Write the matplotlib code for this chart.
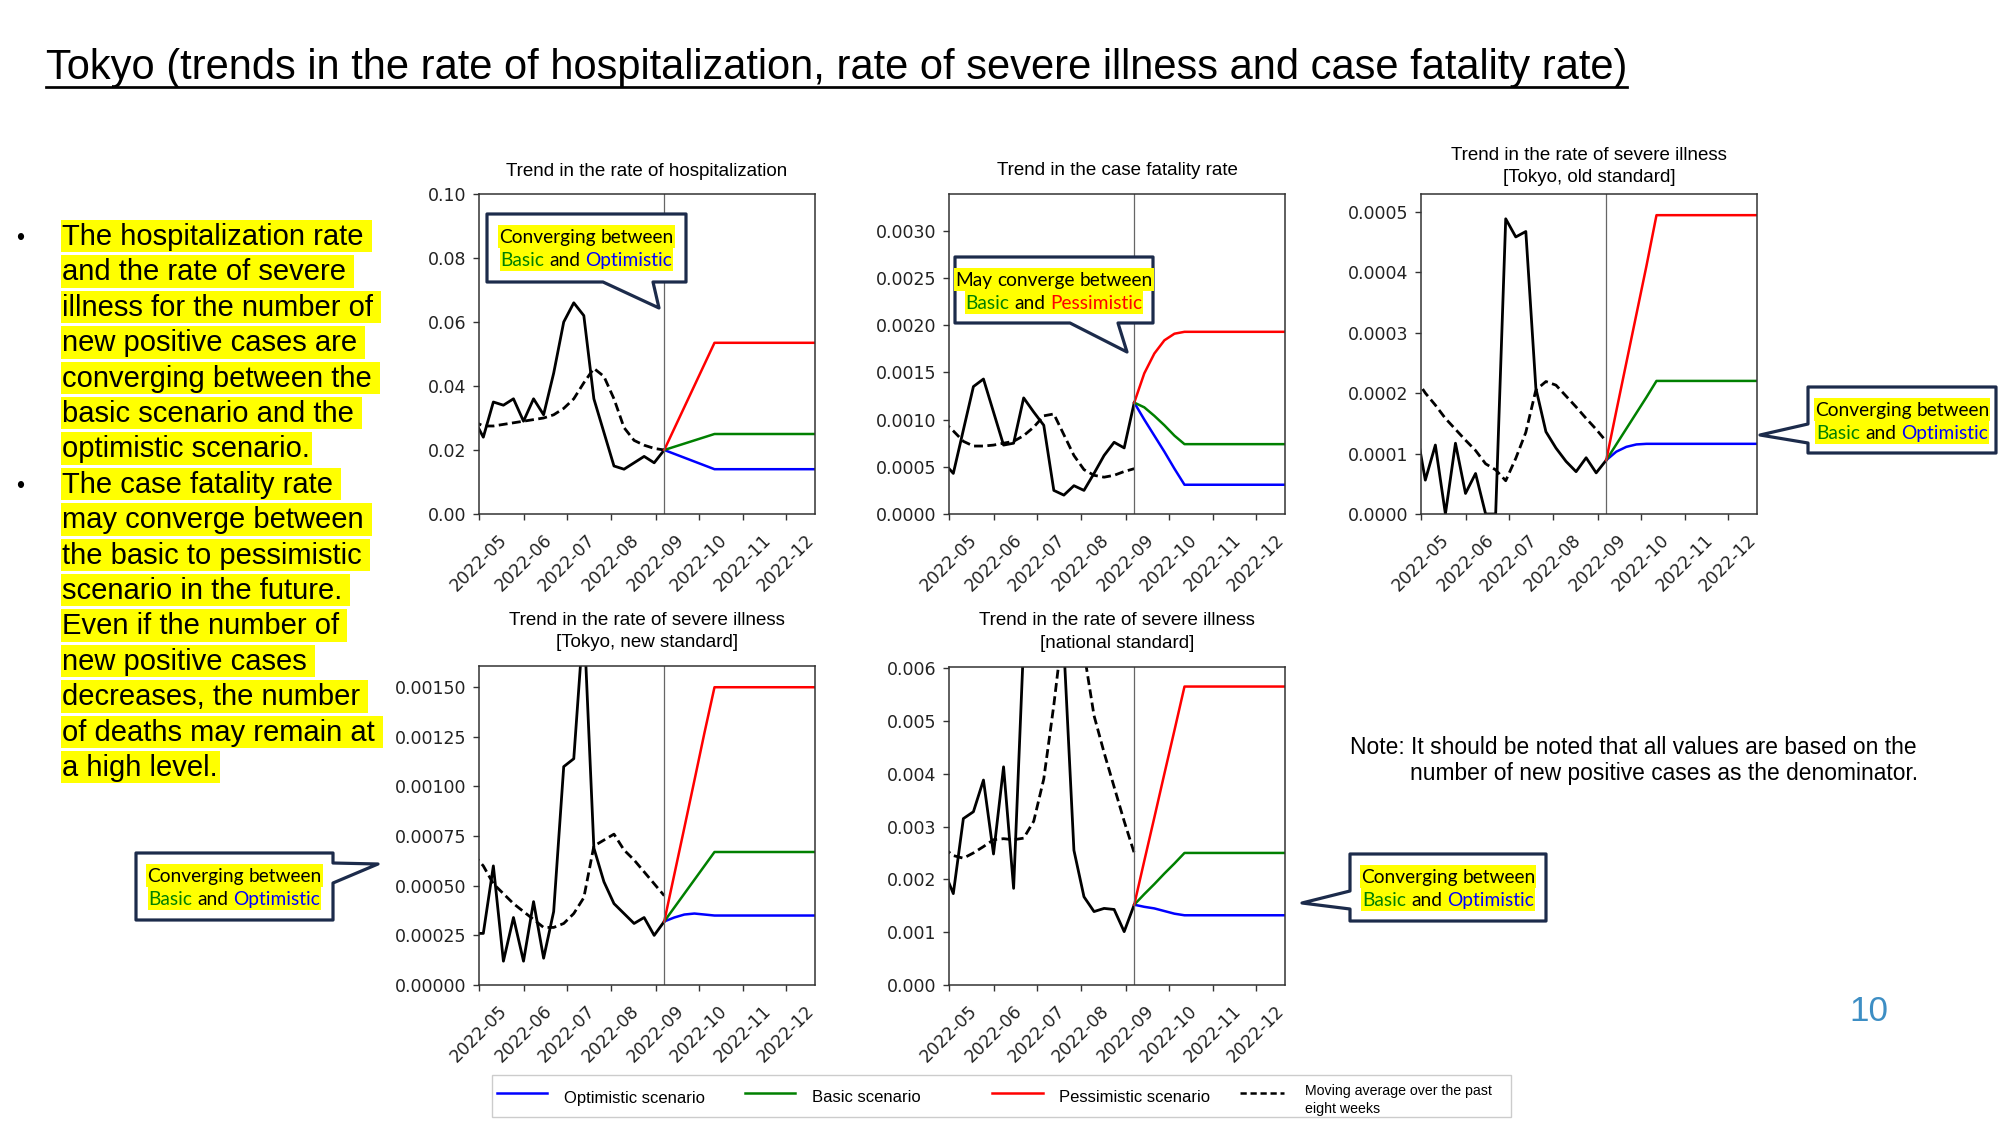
import matplotlib
matplotlib.use('Agg')
import matplotlib.pyplot as plt
import matplotlib.dates as mdates
from matplotlib.patches import Polygon, Rectangle
from matplotlib.lines import Line2D
from matplotlib.ticker import FormatStrFormatter, MultipleLocator
import pandas as pd

W, H = 2000, 1125

# DATA

## weekly observations and scenario projections
week_dates = pd.date_range('2022-04-27', '2022-09-07', freq='7D')
proj_dates = pd.to_datetime(['2022-09-07', '2022-09-14', '2022-09-21', '2022-09-28',
                             '2022-10-05', '2022-10-12', '2022-12-21'])
last_obs = pd.Timestamp('2022-09-07')

hosp_actual = [0.030, 0.024, 0.035, 0.034, 0.036, 0.029, 0.036, 0.031, 0.044, 0.060,
               0.066, 0.062, 0.036, 0.0255, 0.015, 0.014, 0.016, 0.018, 0.016, 0.020]
hosp_ma = [0.029, 0.0275, 0.0275, 0.028, 0.0285, 0.029, 0.0295, 0.030, 0.031, 0.033,
           0.036, 0.041, 0.0455, 0.043, 0.036, 0.027, 0.023, 0.0215, 0.0205, 0.020]
hosp_opt = [0.020, 0.0188, 0.0176, 0.0164, 0.0152, 0.014, 0.014]
hosp_basic = [0.020, 0.021, 0.022, 0.023, 0.024, 0.025, 0.025]
hosp_pess = [0.020, 0.0267, 0.0334, 0.0401, 0.0468, 0.0535, 0.0535]

fat_actual = [0.00055, 0.00043, 0.00089, 0.00135, 0.00143, 0.00108, 0.00073, 0.00075, 0.00123, 0.00108,
              0.00094, 0.00025, 0.0002, 0.0003, 0.00025, 0.00043, 0.00062, 0.00076, 0.0007, 0.00118]
fat_ma = [0.00098, 0.00088, 0.00077, 0.00072, 0.00072, 0.00073, 0.00075, 0.00077, 0.00083, 0.00092,
          0.00104, 0.00106, 0.00084, 0.00062, 0.00047, 0.00041, 0.00039, 0.00041, 0.00045, 0.00048]
fat_opt = [0.00118, 0.0010, 0.00083, 0.00066, 0.00048, 0.00031, 0.00031]
fat_basic = [0.00118, 0.00113, 0.00104, 0.00094, 0.00083, 0.00074, 0.00074]
fat_pess = [0.00118, 0.00149, 0.0017, 0.00184, 0.00191, 0.00193, 0.00193]

old_actual = [0.00015, 0.000056, 0.000114, 0.0, 0.000117, 0.000034, 0.000067, 0.0, 0.0, 0.000488,
              0.000458, 0.000467, 0.000208, 0.000136, 0.000109, 0.000087, 0.00007, 0.000093, 0.000068, 0.000089]
old_ma = [0.000225, 0.0002, 0.00018, 0.000158, 0.00014, 0.000122, 0.000105, 0.000083, 0.000073, 0.000055,
          0.000092, 0.000135, 0.000205, 0.000219, 0.000213, 0.000195, 0.000177, 0.000158, 0.00014, 0.00012]
old_opt = [0.000089, 0.000103, 0.000111, 0.000115, 0.000116, 0.000116, 0.000116]
old_basic = [0.000089, 0.000115, 0.000141, 0.000167, 0.000193, 0.00022, 0.00022]
old_pess = [0.000089, 0.00017, 0.00025, 0.00033, 0.00041, 0.000494, 0.000494]

new_actual = [0.00026, 0.00026, 0.0006, 0.00012, 0.00034, 0.00012, 0.00042, 0.000135, 0.00037, 0.0011,
              0.00114, 0.00185, 0.00069, 0.00052, 0.00041, 0.00036, 0.00031, 0.00034, 0.00025, 0.00032]
new_ma = [0.00066, 0.0006, 0.00051, 0.00046, 0.00041, 0.00037, 0.00033, 0.00029, 0.00029, 0.00031,
          0.00036, 0.00044, 0.0007, 0.00073, 0.00076, 0.00068, 0.00063, 0.00057, 0.00051, 0.00045]
new_opt = [0.00032, 0.00034, 0.000355, 0.00036, 0.000355, 0.00035, 0.00035]
new_basic = [0.00032, 0.00039, 0.00046, 0.00053, 0.0006, 0.00067, 0.00067]
new_pess = [0.00032, 0.000556, 0.000792, 0.00103, 0.00127, 0.0015, 0.0015]

nat_actual = [0.0022, 0.00173, 0.00315, 0.00328, 0.00388, 0.00248, 0.00413, 0.00183, 0.0065, 0.009,
              0.011, 0.010, 0.0064, 0.00255, 0.00167, 0.00139, 0.00145, 0.00143, 0.00101, 0.00152]
nat_ma = [0.0026, 0.00245, 0.0024, 0.0025, 0.00262, 0.00275, 0.00277, 0.00275, 0.00278, 0.0031,
          0.0039, 0.0053, 0.0069, 0.0073, 0.0063, 0.0051, 0.0044, 0.00375, 0.0031, 0.0025]
nat_opt = [0.00152, 0.00148, 0.00145, 0.0014, 0.00135, 0.00132, 0.00132]
nat_basic = [0.00152, 0.00172, 0.00191, 0.00211, 0.0023, 0.0025, 0.0025]
nat_pess = [0.00152, 0.00235, 0.00317, 0.004, 0.00482, 0.00565, 0.00565]

## texts
page_title = 'Tokyo (trends in the rate of hospitalization, rate of severe illness and case fatality rate)'
bullet_lines = [
    'The hospitalization rate', 'and the rate of severe', 'illness for the number of',
    'new positive cases are', 'converging between the', 'basic scenario and the',
    'optimistic scenario.',
    'The case fatality rate', 'may converge between', 'the basic to pessimistic',
    'scenario in the future.', 'Even if the number of', 'new positive cases',
    'decreases, the number', 'of deaths may remain at', 'a high level.',
]
note_lines = ['Note: It should be noted that all values are based on the',
              'number of new positive cases as the denominator.']
legend_labels = ['Optimistic scenario', 'Basic scenario', 'Pessimistic scenario',
                 'Moving average over the past\neight weeks']

# FIGURE
fig = plt.figure(figsize=(W / 100, H / 100), dpi=100)
fig.patch.set_facecolor('white')
renderer = fig.canvas.get_renderer()

def fx(x):
    return x / W

def fy(y):
    return 1 - y / H

def put(x, y, s, **kw):
    kw.setdefault('va', 'baseline')
    return fig.text(fx(x), fy(y), s, **kw)

def width(t):
    return t.get_window_extent(renderer).width

def highlight(x0, x1, top, bottom, z=6):
    fig.add_artist(Rectangle((fx(x0), fy(bottom)), (x1 - x0) / W, (bottom - top) / H,
                             transform=fig.transFigure, facecolor='#ffff00',
                             edgecolor='none', zorder=z))

def space_width(size, family):
    a = put(0, 0, 'a a', fontsize=size, family=family)
    b = put(0, 0, 'aa', fontsize=size, family=family)
    sp = width(a) - width(b)
    a.remove()
    b.remove()
    return sp

## charts
charts = [
    ('Trend in the rate of hospitalization', (479, 194, 815, 514),
     hosp_actual, hosp_ma, hosp_opt, hosp_basic, hosp_pess, 0.10, 0.02, '%.2f', 13),
    ('Trend in the case fatality rate', (949, 194, 1285, 514),
     fat_actual, fat_ma, fat_opt, fat_basic, fat_pess, 0.00339, 0.0005, '%.4f', 13.5),
    ('Trend in the rate of severe illness\n[Tokyo, old standard]', (1421, 194, 1757, 514),
     old_actual, old_ma, old_opt, old_basic, old_pess, 0.000529, 0.0001, '%.4f', 8.5),
    ('Trend in the rate of severe illness\n[Tokyo, new standard]', (479, 666, 815, 985),
     new_actual, new_ma, new_opt, new_basic, new_pess, 0.001607, 0.00025, '%.5f', 13.5),
    ('Trend in the rate of severe illness\n[national standard]', (949, 667, 1285, 985),
     nat_actual, nat_ma, nat_opt, nat_basic, nat_pess, 0.00602, 0.001, '%.3f', 14),
]

for title, (x0, y0, x1, y1), actual, ma, opt, basic, pess, ytop, ystep, yfmt, tpad in charts:
    ax = fig.add_axes([fx(x0), fy(y1), (x1 - x0) / W, (y1 - y0) / H])
    ax.plot(week_dates, actual, color='black', lw=2.0)
    ax.plot(week_dates, ma, color='black', lw=2.0, ls='--', dashes=(3.2, 1.6))
    ax.plot(proj_dates, opt, color='blue', lw=1.8)
    ax.plot(proj_dates, basic, color='green', lw=1.8)
    ax.plot(proj_dates, pess, color='red', lw=1.8)
    ax.axvline(last_obs, color='#666666', lw=0.9)

    ax.set_xlim(pd.Timestamp('2022-05-01'), pd.Timestamp('2022-12-21'))
    ax.set_ylim(0, ytop)
    ax.xaxis.set_major_locator(mdates.MonthLocator())
    ax.xaxis.set_major_formatter(mdates.DateFormatter('%Y-%m'))
    ax.yaxis.set_major_locator(MultipleLocator(ystep))
    ax.yaxis.set_major_formatter(FormatStrFormatter(yfmt))
    ax.tick_params(length=4.3, width=1, color='#333333', labelsize=12.5, labelcolor='#222222')
    ax.tick_params(axis='x', pad=8, labelrotation=45)
    ax.tick_params(axis='y', pad=5)
    for sp in ax.spines.values():
        sp.set_color('#333333')
        sp.set_linewidth(1.1)
    ax.set_title(title, fontsize=13.5, family='Liberation Sans', pad=tpad, linespacing=1.4)

## page title with underline
t = put(45.5, 79.3, page_title, fontsize=27, family='Liberation Sans')
t.set_fontsize(27 * 1582 / width(t))
tw = width(t)
fig.add_artist(Line2D([fx(45.5), fx(45.5 + tw)], [fy(87)] * 2, transform=fig.transFigure,
                      color='black', lw=1.95))

## left bullet text
t0 = put(62, 245, bullet_lines[0], fontsize=20, family='Liberation Sans')
body_size = 20 * 300 / width(t0)
t0.remove()
body_sp = space_width(body_size, 'Liberation Sans')
for k, line in enumerate(bullet_lines):
    base = 245 + 35.4 * k
    tl = put(62, base, line, fontsize=body_size, family='Liberation Sans', zorder=8)
    extra = 2 if k in (6, 15) else body_sp
    highlight(61, 62 + width(tl) + extra, base - 25, base + 7.4)
    if k in (0, 7):
        put(20.5, base, '\u2022', fontsize=body_size * 0.8, family='Liberation Sans', ha='center')

## callouts
callout_font = 'Lato'
callout_shapes = [
    [(487, 214), (686, 214), (686, 282), (653, 282), (659, 308), (603, 282), (487, 282)],
    [(955, 257), (1153, 257), (1153, 323), (1118, 323), (1127, 352), (1070, 323), (955, 323)],
    [(1808, 387), (1996, 387), (1996, 453), (1808, 453), (1808, 443), (1760, 435), (1808, 424)],
    [(136, 853), (333, 853), (333, 863), (378, 864), (333, 883), (333, 920), (136, 920)],
    [(1350, 854), (1546, 854), (1546, 921), (1350, 921), (1350, 909), (1302, 903), (1350, 891)],
]
conv_opt = [[('Converging', 'black'), ('between', 'black')],
            [('Basic', '#008000'), ('and', 'black'), ('Optimistic', '#0000ff')]]
conv_pess = [[('May', 'black'), ('converge', 'black'), ('between', 'black')],
             [('Basic', '#008000'), ('and', 'black'), ('Pessimistic', '#ff0000')]]
callout_texts = [conv_opt, conv_pess, conv_opt, conv_opt, conv_opt]

probe = put(0, 0, 'Converging between', fontsize=14, family=callout_font)
call_size = 14 * 175 / width(probe)
probe.remove()
call_sp = space_width(call_size, callout_font)

def rich_line(pieces, xc, base):
    ts = [put(0, base, s, color=c, fontsize=call_size, family=callout_font, zorder=8)
          for s, c in pieces]
    ws = [width(tt) for tt in ts]
    total = sum(ws) + call_sp * (len(ts) - 1)
    x = xc - total / 2
    for tt, w in zip(ts, ws):
        tt.set_x(fx(x))
        x += w + call_sp
    highlight(xc - total / 2 - 1, xc + total / 2 + 1, base - 18, base + 4.5)

for shape, lines in zip(callout_shapes, callout_texts):
    fig.add_artist(Polygon([(fx(x), fy(y)) for x, y in shape], closed=True,
                           transform=fig.transFigure, facecolor='white',
                           edgecolor='#1c2b4b', lw=2.3, joinstyle='round', zorder=5))
    bx0, by0 = shape[0]
    bx1 = shape[1][0]
    xc = (bx0 + bx1) / 2
    rich_line(lines[0], xc, by0 + 29)
    rich_line(lines[1], xc, by0 + 52)

## note
n1 = put(1350, 753.5, note_lines[0], fontsize=15, family='Liberation Sans')
note_size = 15 * 566 / width(n1)
n1.set_fontsize(note_size)
put(1410, 780.4, note_lines[1], fontsize=note_size, family='Liberation Sans')

## page number
pn = put(1849, 1021, '10', fontsize=28, family='Liberation Sans', color='#3d8ec4')
pn.set_fontsize(28 * 39 / width(pn))

## legend (drawn by hand to follow the slide layout)
fig.add_artist(Rectangle((fx(492), fy(1117)), 1019 / W, 42 / H, transform=fig.transFigure,
                         facecolor='white', edgecolor='#cccccc', lw=1))
leg_colors = ['blue', 'green', 'red', 'black']
leg_styles = ['-', '-', '-', '--']
leg_x = [497, 745, 992, 1240]
leg_len = [50, 50, 51, 44]
leg_tx = [564, 812, 1059, 1305]
lp = put(0, 0, legend_labels[0], fontsize=12, family='Liberation Sans')
leg_size = 12 * 141 / width(lp)
lp.remove()
for lab, c, ls, x, ln, tx in zip(legend_labels, leg_colors, leg_styles, leg_x, leg_len, leg_tx):
    fig.add_artist(Line2D([fx(x), fx(x + ln)], [fy(1093)] * 2, transform=fig.transFigure,
                          color=c, ls=ls, lw=1.8, dashes=(2.5, 1.5) if ls == '--' else (None, None)))
    if '\n' in lab:
        put(tx, 1100, lab, fontsize=leg_size * 0.85, family='Liberation Sans', va='center',
            linespacing=1.35)
    else:
        put(tx, 1098, lab, fontsize=leg_size, family='Liberation Sans', va='center')

fig.savefig('out.png', dpi=100, facecolor='white')
